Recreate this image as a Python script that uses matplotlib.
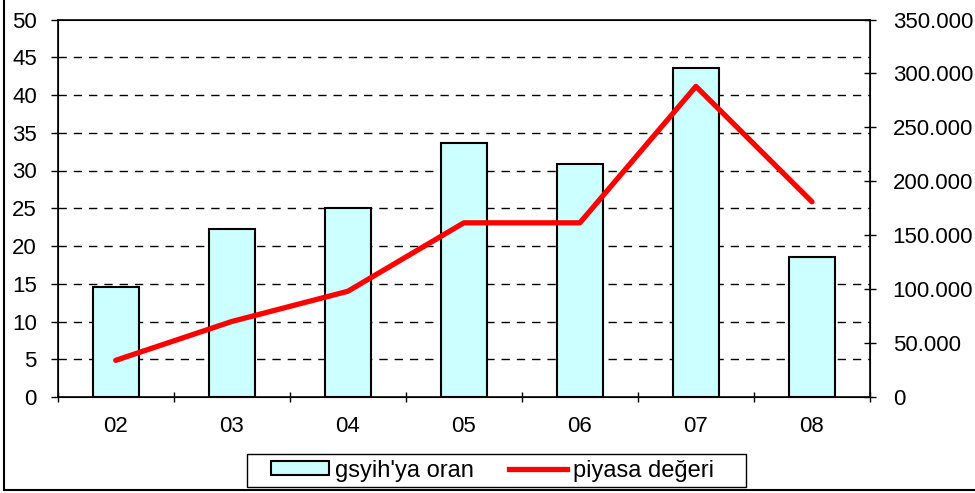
import matplotlib.pyplot as plt
from matplotlib.lines import Line2D
from matplotlib.patches import Rectangle
from matplotlib.ticker import FuncFormatter, MultipleLocator
import numpy as np

plt.rcParams['font.family'] = ['Liberation Sans', 'DejaVu Sans']

# data
years = ["02", "03", "04", "05", "06", "07", "08"]
gsyih_orani = [14.6, 22.3, 25.0, 33.7, 30.8, 43.6, 18.6]
piyasa_degeri = [34000, 70000, 98000, 161500, 161500, 288000, 181000]

fs = 16
W, H = 975, 493

fig = plt.figure(figsize=(9.75, 4.93), dpi=100)
ax = fig.add_axes([57.7 / W, 1 - 397 / H, (870 - 57.7) / W, (397 - 19.5) / H])

x = np.arange(len(years))
ax.bar(x, gsyih_orani, width=0.4, color="#CCFFFF", edgecolor="black", linewidth=1.5, zorder=2)
ax.set_xlim(-0.5, len(years) - 0.5)
ax.set_ylim(0, 50)
ax.yaxis.set_major_locator(MultipleLocator(5))
ax.set_xticks(x)
ax.set_xticklabels(years)
ax.set_xticks(np.arange(-0.5, len(years), 1), minor=True)
ax.tick_params(axis="x", which="major", length=0, pad=14, labelsize=fs)
ax.tick_params(axis="x", which="minor", length=7, direction="inout", width=1)
ax.tick_params(axis="y", length=5, direction="out", width=1, labelsize=fs, pad=10)
for y in range(5, 50, 5):
    ax.axhline(y, color="black", linestyle=(0, (6, 5)), linewidth=1, zorder=1)
for s in ax.spines.values():
    s.set_linewidth(1.2)

ax2 = ax.twinx()
ax2.plot(x, piyasa_degeri, color="red", linewidth=3.8, solid_capstyle="round", zorder=3)
ax2.set_ylim(0, 350000)
ax2.yaxis.set_major_locator(MultipleLocator(50000))
ax2.yaxis.set_major_formatter(FuncFormatter(lambda v, p: "0" if v == 0 else f"{v/1000:.0f}.000"))
ax2.tick_params(axis="y", length=8.6, direction="inout", width=1, labelsize=fs, pad=12)

handles = [Rectangle((0, 0), 1, 1, facecolor="#CCFFFF", edgecolor="black", linewidth=1.5),
           Line2D([0], [0], color="red", linewidth=3.8)]
leg = fig.legend(handles, ["gsyih'ya oran", "piyasa değeri"], loc="center",
                 bbox_to_anchor=(492.5 / W, 1 - 470.5 / H), ncol=2, fontsize=17,
                 frameon=False, handlelength=2.45, handleheight=0.55,
                 columnspacing=1.5, handletextpad=0.25, borderpad=0, borderaxespad=0)
fig.add_artist(Rectangle((247 / W, 1 - 487 / H), (746 - 247) / W, 33 / H, fill=False,
                         edgecolor="black", linewidth=1, transform=fig.transFigure))

# outer border (left and bottom visible)
fig.add_artist(Line2D([4 / W, 4 / W], [1 - 490 / H, 1], color="black", linewidth=1.5, transform=fig.transFigure))
fig.add_artist(Line2D([4 / W, 1], [1 - 490 / H, 1 - 490 / H], color="black", linewidth=1.5, transform=fig.transFigure))

fig.savefig("out.png", dpi=100)
